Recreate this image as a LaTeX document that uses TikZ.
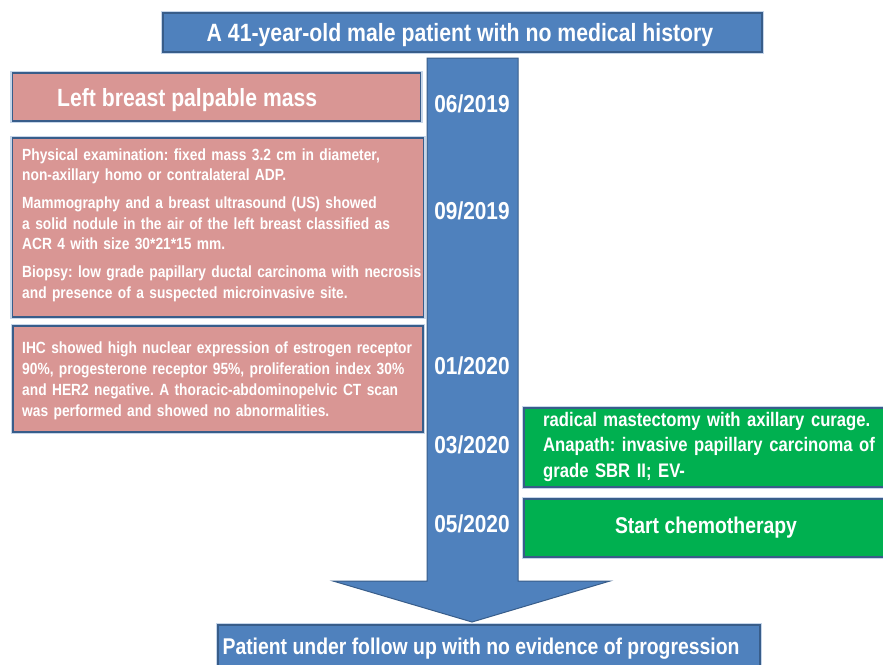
\documentclass[tikz,border=0pt]{standalone}
\usepackage{fontspec}
\setmainfont{Liberation Sans}[FakeStretch=0.85]
\definecolor{tlblue}{HTML}{4F81BD}
\definecolor{tlborder}{HTML}{385D8A}
\definecolor{tlpink}{HTML}{D99694}
\definecolor{tlgreen}{HTML}{00B050}
\definecolor{tlhalo}{HTML}{C6D6EA}
\begin{document}
\frenchspacing
\begin{tikzpicture}[x=1pt,y=-1pt,
  box/.style={draw=tlborder,line width=1.4pt,inner sep=0pt,rectangle,
    preaction={draw=tlhalo,line width=4.5pt}},
  bluebox/.style={box,fill=tlblue},
  pinkbox/.style={box,fill=tlpink},
  greenbox/.style={box,fill=tlgreen},
  txt/.style={text=white,inner sep=0pt,font=\bfseries},
  para/.style={txt,text width=460pt,align=left,anchor=base west},
  datetxt/.style={txt,anchor=base,font=\fontsize{24.5}{26}\selectfont\bfseries}]
\useasboundingbox (0,0) rectangle (883,664);
\fill[white] (0,0) rectangle (883,664);
% timeline arrow
\filldraw[fill=tlblue,draw=tlborder,line width=1pt]
  (427,58) -- (518,58) -- (518,581) -- (610,581) -- (472,622) -- (333,581) -- (427,581) -- cycle;
% title
\node[bluebox,minimum width=599pt,minimum height=39pt] (title) at (462.5,32.5) {};
\node[txt,anchor=base,font=\fontsize{25}{27}\selectfont\bfseries] (titletxt) at (460,41)
  {A 41-year-old male patient with no medical history};
% pink boxes
\node[pinkbox,minimum width=408pt,minimum height=48pt] (p1) at (216.5,97) {};
\node[txt,anchor=base west,font=\fontsize{24.9}{27}\selectfont\bfseries] (p1txt) at (57,106)
  {Left breast palpable mass};
\node[pinkbox,minimum width=411pt,minimum height=179pt] (p2) at (218,227.5) {};
\node[para,font=\fontsize{16.2}{20.5}\selectfont\bfseries] (p2txt) at (22,160)
  {Physical examination: fixed mass 3.2 cm in diameter,\\
   non-axillary homo or contralateral ADP.\\[7.5pt]
   Mammography and a breast ultrasound (US) showed\\
   a solid nodule in the air of the left breast classified as\\
   ACR 4 with size 30*21*15 mm.\\[7.5pt]
   Biopsy: low grade papillary ductal carcinoma with necrosis\\
   and presence of a suspected microinvasive site.};
\node[pinkbox,minimum width=410pt,minimum height=106pt] (p3) at (218,379) {};
\node[para,font=\fontsize{16.2}{21}\selectfont\bfseries] (p3txt) at (22,353)
  {IHC showed high nuclear expression of estrogen receptor\\
   90\%, progesterone receptor 95\%, proliferation index 30\%\\
   and HER2 negative. A thoracic-abdominopelvic CT scan\\
   was performed and showed no abnormalities.};
% green boxes
\node[greenbox,minimum width=362pt,minimum height=79pt] (g1) at (705,447.5) {};
\node[para,font=\fontsize{19.6}{25.5}\selectfont\bfseries] (g1txt) at (543,426)
  {radical mastectomy with axillary curage.\\
   Anapath: invasive papillary carcinoma of\\
   grade SBR II; EV-};
\node[greenbox,minimum width=362pt,minimum height=58pt] (g2) at (705,528) {};
\node[txt,anchor=base,font=\fontsize{22.8}{25}\selectfont\bfseries] (g2txt) at (706,533)
  {Start chemotherapy};
% dates
\node[datetxt] (d1) at (472,112) {06/2019};
\node[datetxt] (d2) at (472,219) {09/2019};
\node[datetxt] (d3) at (472,374) {01/2020};
\node[datetxt] (d4) at (472,453) {03/2020};
\node[datetxt] (d5) at (472,532) {05/2020};
% bottom
\node[bluebox,minimum width=542pt,minimum height=50pt] (bottom) at (489,650) {};
\node[txt,anchor=base,font=\fontsize{22.8}{25}\selectfont\bfseries] (bottomtxt) at (481,654)
  {Patient under follow up with no evidence of progression};
\end{tikzpicture}
\end{document}
